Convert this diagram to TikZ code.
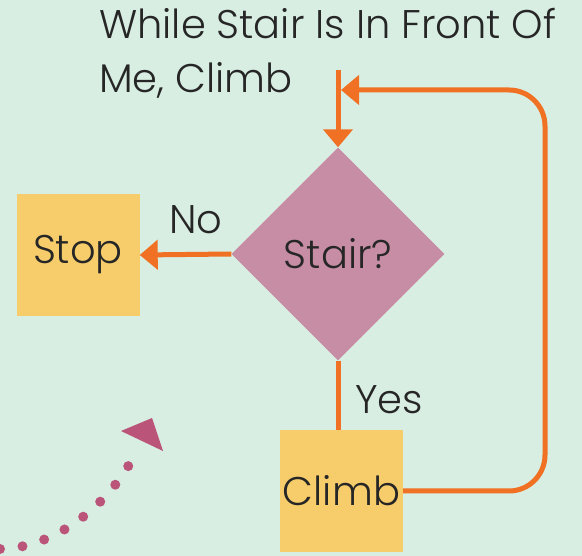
\documentclass[tikz,border=0pt]{standalone}
\usepackage{fontspec}
\setmainfont{Poppins}[UprightFont=* Light]
\usetikzlibrary{shapes.geometric,arrows.meta}

\definecolor{mint}{HTML}{D8EEE2}
\definecolor{orng}{HTML}{F07124}
\definecolor{mauve}{HTML}{C68DA5}
\definecolor{sand}{HTML}{F7CD6B}
\definecolor{berry}{HTML}{BB5479}

\begin{document}
\begin{tikzpicture}[x=1pt,y=-1pt,
  every node/.style={text=black!85,font=\fontsize{40}{54}\selectfont},
  action/.style={rectangle,fill=sand,minimum width=123pt,minimum height=122pt,inner sep=0pt},
  decision/.style={diamond,fill=mauve,minimum size=213pt,inner sep=0pt},
  flow/.style={draw=orng,line width=5pt},
  tip/.style={-{Triangle[length=18pt,width=29pt]}}]
  \fill[mint] (0,0) rectangle (582,556);
  \useasboundingbox (0,0) rectangle (582,556);

  \node[anchor=north west,align=left,inner sep=0pt] (title) at (99,8) {While Stair Is In Front Of\\Me, Climb};

  \node[decision] (stair) at (338,254) {Stair?};
  \node[action] (stop) at (78,255) {Stop};
  \node[action] (climb) at (341.5,491) {Climb};
  \node (no) at (196,220) {No};
  \node (yes) at (389,400) {Yes};

  \coordinate (entry) at (338,70);
  \coordinate (corner) at (545,90);
  \coordinate (join) at (341,90);

  \draw[flow,tip] (entry) -- (stair.north);
  \draw[flow,tip] (stair.west) -- (stop.east);
  \draw[flow] (stair.south) -- (stair.south |- climb.north);
  \draw[flow,tip,rounded corners=36pt] (climb.east) -| (corner) -- (join);

  % dotted hint arrow
  \draw[berry,line width=10pt,line cap=round,dash pattern=on 0pt off 22.7pt]
    (0,549) .. controls (55,548) and (110,505) .. (136,452);
  \fill[berry] (121,431) -- (152,418) -- (163,451) -- cycle;
\end{tikzpicture}
\end{document}
